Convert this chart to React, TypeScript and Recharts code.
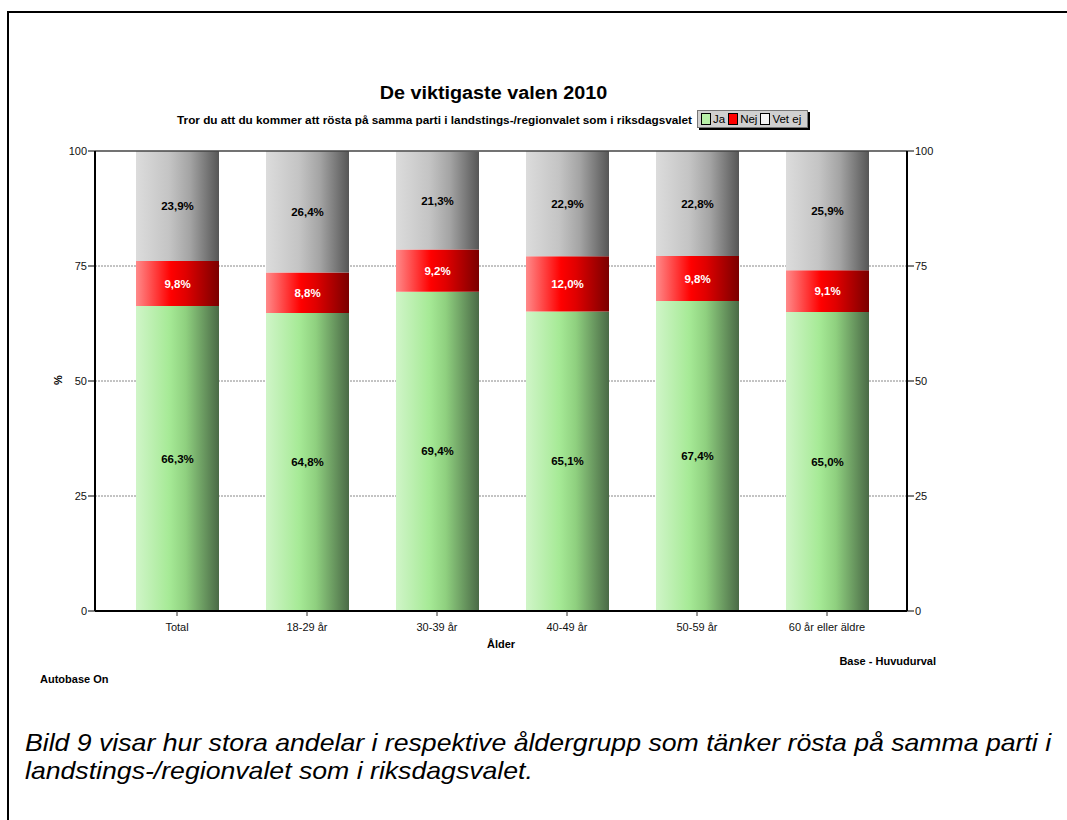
import React from 'react';
import {
  BarChart,
  Bar,
  XAxis,
  YAxis,
  CartesianGrid,
  ReferenceLine,
  LabelList,
} from 'recharts';

const categories = ['Total', '18-29 år', '30-39 år', '40-49 år', '50-59 år', '60 år eller äldre'];
const jaValues = [66.3, 64.8, 69.4, 65.1, 67.4, 65.0];
const nejValues = [9.8, 8.8, 9.2, 12.0, 9.8, 9.1];
const vetEjValues = [23.9, 26.4, 21.3, 22.9, 22.8, 25.9];
const majorTicks = [0, 25, 50, 75, 100];
const minorTicks = [6.25, 12.5, 18.75, 31.25, 37.5, 43.75, 56.25, 62.5, 68.75, 81.25, 87.5, 93.75];
const gridValues = [25, 50, 75];

const data = categories.map((name, i) => ({
  name,
  Ja: jaValues[i],
  Nej: nejValues[i],
  VetEj: vetEjValues[i],
}));

const FONT = '"Liberation Sans", Arial, sans-serif';

const fmt = (v: any) => Number(v).toFixed(1).replace('.', ',') + '%';

const legendItems = [
  { label: 'Ja', color: '#b8f0a8' },
  { label: 'Nej', color: '#ff0000' },
  { label: 'Vet ej', color: '#f4f4f4' },
];

const LegendBox = () => (
  <div
    style={{
      position: 'absolute',
      left: 697,
      top: 110,
      display: 'flex',
      alignItems: 'center',
      height: 16,
      padding: '0 3px 0 3px',
      background: '#d0d0d0',
      border: '1px solid #777',
      boxShadow: '2px 2px 0 #000',
      fontFamily: FONT,
      fontSize: 11.5,
      color: '#000',
    }}
  >
    {legendItems.map((it) => (
      <span key={it.label} style={{ display: 'flex', alignItems: 'center', marginRight: 3 }}>
        <span
          style={{
            display: 'inline-block',
            width: 8,
            height: 10,
            background: it.color,
            border: '1px solid #000',
            marginRight: 2,
          }}
        />
        {it.label}
      </span>
    ))}
  </div>
);

const abs = (left: number, top: number, extra: React.CSSProperties = {}): React.CSSProperties => ({
  position: 'absolute',
  left,
  top,
  fontFamily: FONT,
  color: '#000',
  whiteSpace: 'nowrap',
  ...extra,
});

const tickStyle = { fontSize: 11, fill: '#111', fontFamily: FONT };

export default function App() {
  return (
    <div style={{ position: 'absolute', left: 0, top: 0, width: 1067, height: 820, background: '#fff', overflow: 'hidden' }}>
      {/* frame */}
      <div style={{ position: 'absolute', left: 7, top: 11, width: 1070, height: 820, borderLeft: '2px solid #000', borderTop: '2px solid #000' }} />

      <div style={abs(0, 83, { width: 987, textAlign: 'center', fontSize: 17.5, fontWeight: 'bold', transform: 'scaleX(1.13)', transformOrigin: '494px 0' })}>
        De viktigaste valen 2010
      </div>
      <div style={abs(0, 114, { width: 692, textAlign: 'right', fontSize: 10.5, fontWeight: 'bold', transform: 'scaleX(1.12)', transformOrigin: '692px 0' })}>
        Tror du att du kommer att rösta på samma parti i landstings-/regionvalet som i riksdagsvalet
      </div>
      <LegendBox />

      <BarChart
        width={1067}
        height={820}
        data={data}
        margin={{ top: 151, left: 93, right: 158, bottom: 208 }}
        style={{ position: 'absolute', left: 0, top: 0 }}
      >
        <defs>
          <linearGradient id="gJa" x1="0" y1="0" x2="1" y2="0">
            <stop offset="0%" stopColor="#d0f5c8" />
            <stop offset="40%" stopColor="#a6ea96" />
            <stop offset="60%" stopColor="#8fd07f" />
            <stop offset="100%" stopColor="#4a6a46" />
          </linearGradient>
          <linearGradient id="gNej" x1="0" y1="0" x2="1" y2="0">
            <stop offset="0%" stopColor="#ff8a8a" />
            <stop offset="42%" stopColor="#ff0000" />
            <stop offset="60%" stopColor="#e00000" />
            <stop offset="100%" stopColor="#7a0000" />
          </linearGradient>
          <linearGradient id="gVet" x1="0" y1="0" x2="1" y2="0">
            <stop offset="0%" stopColor="#dcdcdc" />
            <stop offset="40%" stopColor="#c4c4c4" />
            <stop offset="65%" stopColor="#a4a4a4" />
            <stop offset="100%" stopColor="#565656" />
          </linearGradient>
        </defs>
        <CartesianGrid
          yAxisId="yL"
          vertical={false}
          horizontalValues={gridValues}
          stroke="#888"
          strokeDasharray="2 1"
        />
        <XAxis
          dataKey="name"
          height={1}
          stroke="#000"
          padding={{ left: 17, right: 15 }}
          tick={tickStyle}
          tickSize={5}
          tickMargin={7}
          axisLine={{ stroke: '#000', strokeWidth: 2 }}
          tickLine={{ stroke: '#333' }}
          interval={0}
        />
        <YAxis
          yAxisId="yLminor"
          width={1}
          type="number"
          stroke="#000"
          domain={[0, 100]}
          allowDataOverflow
          ticks={minorTicks}
          tick={false}
          tickSize={3}
          axisLine={false}
          tickLine={{ stroke: '#000' }}
        />
        <YAxis
          yAxisId="yL"
          width={1}
          type="number"
          stroke="#000"
          domain={[0, 100]}
          allowDataOverflow
          ticks={majorTicks}
          tick={tickStyle}
          tickSize={7}
          tickMargin={1}
          axisLine={{ stroke: '#000', strokeWidth: 2 }}
          tickLine={{ stroke: '#000' }}
        />
        <YAxis
          yAxisId="yRminor"
          orientation="right"
          width={1}
          type="number"
          stroke="#000"
          domain={[0, 100]}
          allowDataOverflow
          ticks={minorTicks}
          tick={false}
          tickSize={4}
          axisLine={false}
          tickLine={{ stroke: '#000' }}
        />
        <YAxis
          yAxisId="yR"
          orientation="right"
          width={1}
          type="number"
          stroke="#000"
          domain={[0, 100]}
          allowDataOverflow
          ticks={majorTicks}
          tick={tickStyle}
          tickSize={7}
          tickMargin={1}
          axisLine={{ stroke: '#000', strokeWidth: 2 }}
          tickLine={{ stroke: '#000' }}
          interval={0}
        />
        <ReferenceLine yAxisId="yL" y={100} stroke="#444" strokeWidth={1.5} />
        <Bar dataKey="Ja" stackId="a" yAxisId="yL" barSize={83} fill="url(#gJa)" isAnimationActive={false}>
          <LabelList dataKey="Ja" position="center" formatter={fmt} fill="#000" fontSize={11.5} fontWeight="bold" fontFamily={FONT} />
        </Bar>
        <Bar dataKey="Nej" stackId="a" yAxisId="yL" barSize={83} fill="url(#gNej)" isAnimationActive={false}>
          <LabelList dataKey="Nej" position="center" formatter={fmt} fill="#fff" fontSize={11.5} fontWeight="bold" fontFamily={FONT} />
        </Bar>
        <Bar dataKey="VetEj" stackId="a" yAxisId="yL" barSize={83} fill="url(#gVet)" isAnimationActive={false}>
          <LabelList dataKey="VetEj" position="center" formatter={fmt} fill="#000" fontSize={11.5} fontWeight="bold" fontFamily={FONT} />
        </Bar>
      </BarChart>

      <div style={abs(53, 374, { fontSize: 11, fontWeight: 'bold', transform: 'rotate(-90deg)', transformOrigin: 'center' })}>%</div>
      <div style={abs(0, 638, { width: 1002, textAlign: 'center', fontSize: 11, fontWeight: 'bold' })}>Ålder</div>
      <div style={abs(0, 655, { width: 936, textAlign: 'right', fontSize: 11, fontWeight: 'bold' })}>Base - Huvudurval</div>
      <div style={abs(40, 673, { fontSize: 11, fontWeight: 'bold' })}>Autobase On</div>

      <div style={abs(25, 729, { fontSize: 24, fontStyle: 'italic', lineHeight: '28px', transform: 'scaleX(1.11)', transformOrigin: '0 0' })}>
        Bild 9 visar hur stora andelar i respektive åldergrupp som tänker rösta på samma parti i
        <br />
        landstings-/regionvalet som i riksdagsvalet.
      </div>
    </div>
  );
}
